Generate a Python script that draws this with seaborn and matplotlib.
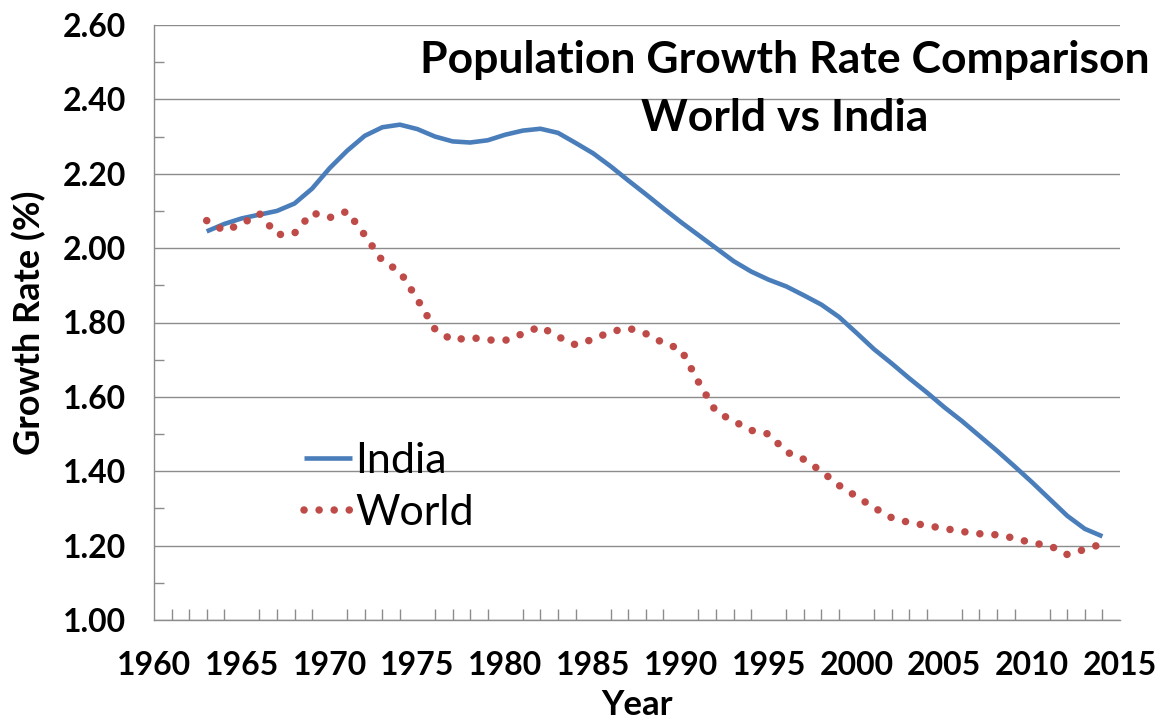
import matplotlib
matplotlib.use("Agg")
import matplotlib.pyplot as plt
from matplotlib.ticker import MultipleLocator, FormatStrFormatter
import seaborn as sns
import pandas as pd

years = list(range(1963, 2015))
india = [2.045, 2.065, 2.080, 2.090, 2.100, 2.120, 2.160, 2.215, 2.262, 2.302,
         2.325, 2.332, 2.320, 2.300, 2.287, 2.284, 2.290, 2.305, 2.316, 2.321,
         2.310, 2.283, 2.255, 2.220, 2.182, 2.145, 2.107, 2.070, 2.035, 2.000,
         1.965, 1.937, 1.915, 1.897, 1.873, 1.848, 1.815, 1.772, 1.728, 1.690,
         1.650, 1.612, 1.572, 1.535, 1.495, 1.455, 1.413, 1.370, 1.325, 1.280,
         1.245, 1.225]
world = [2.074, 2.047, 2.065, 2.093, 2.036, 2.040, 2.095, 2.082, 2.099, 2.035,
         1.966, 1.937, 1.862, 1.782, 1.752, 1.760, 1.753, 1.752, 1.770, 1.789,
         1.762, 1.740, 1.755, 1.775, 1.785, 1.770, 1.745, 1.728, 1.640, 1.560,
         1.535, 1.510, 1.500, 1.452, 1.432, 1.400, 1.362, 1.332, 1.302, 1.275,
         1.262, 1.254, 1.246, 1.238, 1.232, 1.229, 1.220, 1.207, 1.200, 1.176,
         1.190, 1.205]
series_names = ["India", "World"]
title_lines = ["Population Growth Rate Comparison", "World vs India"]

df = pd.DataFrame({"Year": years * 2,
                   "Rate": india + world,
                   "Series": [series_names[0]] * len(years) + [series_names[1]] * len(years)})

sns.set_theme(style="white")
plt.rcParams['font.family'] = ['Lato', 'DejaVu Sans']
plt.rcParams['text.color'] = 'black'
plt.rcParams['xtick.labelcolor'] = 'black'
plt.rcParams['ytick.labelcolor'] = 'black'
plt.rcParams['axes.labelcolor'] = 'black'

fig = plt.figure(figsize=(11.61, 7.27), dpi=100)
ax = fig.add_axes([154/1161, 1 - 620/727, (1120-154)/1161, (620-25)/727])

blue = "#4A7EBB"
red = "#BE4B48"
sns.lineplot(data=df[df.Series == "India"], x="Year", y="Rate", ax=ax,
             color=blue, linewidth=3.3, label="India", solid_capstyle="butt")
sns.lineplot(data=df[df.Series == "World"], x="Year", y="Rate", ax=ax,
             color=red, linewidth=5.4, label="World",
             linestyle=(0, (0.01, 2.0)), dash_capstyle="round")

ax.set_xlim(1960, 2015)
ax.set_ylim(1.0, 2.6)
ax.xaxis.set_major_locator(MultipleLocator(5))
ax.xaxis.set_minor_locator(MultipleLocator(1))
ax.yaxis.set_major_locator(MultipleLocator(0.2))
ax.yaxis.set_minor_locator(MultipleLocator(0.1))
ax.yaxis.set_major_formatter(FormatStrFormatter("%.2f"))

gridc = "#8C8C8C"
ax.grid(axis="y", which="major", color=gridc, linewidth=1.0)
ax.grid(axis="x", visible=False)
for s in ["top", "right"]:
    ax.spines[s].set_visible(False)
for s in ["left", "bottom"]:
    ax.spines[s].set_color(gridc)
    ax.spines[s].set_linewidth(1.0)

ax.tick_params(axis="x", which="major", direction="inout", length=20, width=1,
               color=gridc, labelsize=23, pad=12)
ax.tick_params(axis="x", which="minor", direction="in", length=8, width=1,
               color=gridc, bottom=True)
ax.tick_params(axis="y", which="major", direction="out", length=10, width=1,
               color=gridc, labelsize=23, pad=10)
ax.tick_params(axis="y", which="minor", direction="in", length=7, width=1,
               color=gridc, left=True)
for lab in ax.get_xticklabels() + ax.get_yticklabels():
    lab.set_fontweight("bold")

ax.set_xlabel("Year", fontsize=25, fontweight="bold", labelpad=7)
ax.set_ylabel("Growth Rate (%)", fontsize=26, fontweight="bold", labelpad=12)

fig.text(785/1161, 1 - 60/727, title_lines[0], ha="center", va="center",
         fontsize=32, fontweight="bold")
fig.text(785/1161, 1 - 118/727, title_lines[1], ha="center", va="center",
         fontsize=32, fontweight="bold")

leg = ax.legend(loc="upper left", bbox_to_anchor=(133/966, 1 - (425-25)/595),
                frameon=False, fontsize=31, handlelength=1.1, handletextpad=0.08,
                labelspacing=0.32, borderaxespad=0)

fig.savefig("out.png", dpi=100)
